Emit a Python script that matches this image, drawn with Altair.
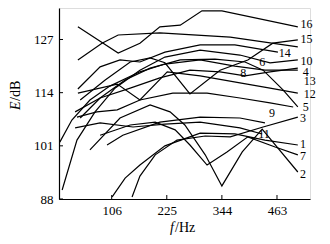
import altair as alt
import pandas as pd

# ---- series (frequency in Hz, level in dB) ----
HZ_16 = [33, 120, 167, 210, 254, 301, 344, 508]
DB_16 = [130.1, 123.7, 126.1, 130.1, 130.5, 134.0, 134.0, 130.1]

HZ_15 = [33, 85, 120, 210, 362, 508]
DB_15 = [122.0, 126.1, 128.1, 128.6, 127.6, 125.2]

HZ_13 = [38, 92, 146, 189, 221, 275, 340, 400, 454, 508]
DB_13 = [112.2, 117.1, 121.5, 122.5, 121.3, 113.7, 119.5, 122.0, 126.1, 126.9]

HZ_14 = [33, 81, 124, 167, 221, 297, 372, 465]
DB_14 = [114.9, 120.3, 122.0, 121.5, 123.9, 125.7, 125.7, 123.9]

HZ_10 = [-1, 31, 70, 113, 167, 221, 297, 383, 448, 508]
DB_10 = [90.2, 102.4, 109.3, 115.1, 119.5, 122.7, 124.4, 123.2, 121.3, 122.0]

HZ_4 = [-6, 20, 59, 102, 167, 221, 297, 372, 437, 508]
DB_4 = [101.9, 107.3, 112.2, 115.6, 119.1, 121.0, 122.0, 120.5, 119.5, 119.5]

HZ_6 = [38, 81, 135, 189, 254, 329, 394, 433, 476, 508]
DB_6 = [107.8, 112.7, 117.1, 120.0, 122.0, 122.2, 121.5, 119.5, 114.7, 110.5]

HZ_8 = [27, 81, 146, 210, 275, 340, 394, 448, 508]
DB_8 = [109.3, 112.7, 115.1, 117.6, 119.5, 119.1, 118.1, 119.1, 120.0]

HZ_12 = [33, 118, 167, 226, 297, 383, 448, 508]
DB_12 = [113.9, 116.1, 112.2, 119.1, 118.1, 116.4, 115.1, 113.9]

HZ_5 = [31, 74, 118, 167, 238, 312, 383, 448, 498]
DB_5 = [108.0, 109.3, 109.8, 112.2, 113.9, 113.9, 112.7, 111.5, 110.5]

HZ_9 = [96, 130, 210, 297, 383, 437]
DB_9 = [101.2, 103.6, 106.8, 108.0, 107.8, 106.6]

HZ_11 = [27, 81, 152, 221, 297, 383, 431]
DB_11 = [105.4, 106.6, 105.6, 106.3, 106.8, 105.4, 103.9]

HZ_1 = [107, 135, 167, 221, 297, 372, 437, 508]
DB_1 = [88.5, 93.1, 96.3, 101.0, 104.1, 103.9, 102.4, 101.2]

HZ_3 = [150, 167, 200, 247, 308, 362, 433, 508]
DB_3 = [88.5, 93.6, 98.8, 102.4, 103.4, 103.2, 105.6, 108.0]

HZ_2 = [59, 124, 189, 232, 264, 308, 344, 388, 431, 508]
DB_2 = [100.0, 107.8, 111.0, 109.3, 106.1, 98.8, 91.2, 99.5, 105.1, 94.6]

HZ_7 = [81, 146, 200, 243, 275, 312, 355, 400, 459, 508]
DB_7 = [103.6, 106.1, 106.8, 104.9, 101.2, 96.3, 99.5, 103.2, 100.7, 98.8]

# ---- curve labels ----
LABEL_TEXT = ["16", "15", "14", "10", "4", "13", "12", "5", "3", "1", "7", "2", "6", "8", "9", "11"]
LABEL_HZ = [527, 527, 480, 527, 525, 534, 534, 525, 519, 519, 519, 519, 431, 390, 452, 435]
LABEL_DB = [130.8, 127.1, 123.7, 121.7, 119.1, 116.8, 113.7, 110.5, 107.8, 101.4, 98.6, 94.1, 121.5, 118.8, 109.0, 103.9]

# ---- axes ----
X_TICKS = [106, 225, 344, 463]
Y_TICKS = [88, 101, 114, 127]
X_DOMAIN = [-7.8, 534.3]
Y_DOMAIN = [88, 134.7]

series = {
    "16": (HZ_16, DB_16), "15": (HZ_15, DB_15), "13": (HZ_13, DB_13), "14": (HZ_14, DB_14),
    "10": (HZ_10, DB_10), "4": (HZ_4, DB_4), "6": (HZ_6, DB_6), "8": (HZ_8, DB_8),
    "12": (HZ_12, DB_12), "5": (HZ_5, DB_5), "9": (HZ_9, DB_9), "11": (HZ_11, DB_11),
    "1": (HZ_1, DB_1), "3": (HZ_3, DB_3), "2": (HZ_2, DB_2), "7": (HZ_7, DB_7),
}
rows = []
for name, (hz, db) in series.items():
    for i, (h, d) in enumerate(zip(hz, db)):
        rows.append({"curve": name, "f": h, "E": d, "i": i})
df = pd.DataFrame(rows)

lab = pd.DataFrame({"t": LABEL_TEXT, "f": LABEL_HZ, "E": LABEL_DB})
xt = pd.DataFrame({"f": X_TICKS})
yt = pd.DataFrame({"E": Y_TICKS})

FONT = "Liberation Serif"

xscale = alt.Scale(domain=X_DOMAIN, nice=False, zero=False)
yscale = alt.Scale(domain=Y_DOMAIN, nice=False, zero=False)

lines = alt.Chart(df).mark_line(color="black", strokeWidth=1.2).encode(
    x=alt.X("f:Q", scale=xscale, axis=alt.Axis(
        values=X_TICKS, title=None, grid=False, ticks=False, domainColor="black",
        domainWidth=1.2, labelFont=FONT, labelFontSize=13, labelColor="black",
        labelPadding=5)),
    y=alt.Y("E:Q", scale=yscale, axis=alt.Axis(
        values=Y_TICKS, title=None, grid=False, ticks=False, domainColor="black",
        domainWidth=1.2, labelFont=FONT, labelFontSize=13, labelColor="black",
        labelPadding=6)),
    detail="curve:N",
    order="i:Q",
)

labels = alt.Chart(lab).mark_text(font=FONT, fontSize=12, color="black", fill="black",
                                  align="center", baseline="middle").encode(
    x=alt.X("f:Q", scale=xscale), y=alt.Y("E:Q", scale=yscale), text="t:N")

xticks = alt.Chart(xt).mark_rule(color="black", strokeWidth=1).encode(
    x=alt.X("f:Q", scale=xscale), y=alt.value(191), y2=alt.value(187))
yticks = alt.Chart(yt).mark_rule(color="black", strokeWidth=1).encode(
    y=alt.Y("E:Q", scale=yscale), x=alt.value(0), x2=alt.value(4))

# axis titles: italic symbol + upright unit
XT_SYM = pd.DataFrame({"t": ["f"]})
XT_UNIT = pd.DataFrame({"t": ["/Hz"]})
YT_SYM = pd.DataFrame({"t": ["E"]})
YT_UNIT = pd.DataFrame({"t": ["/dB"]})

x_sym = alt.Chart(XT_SYM).mark_text(font=FONT, fontSize=14, fontStyle="italic", color="black",
                                    align="left", baseline="middle").encode(
    x=alt.value(111), y=alt.value(220), text="t:N")
x_unit = alt.Chart(XT_UNIT).mark_text(font=FONT, fontSize=14, color="black",
                                      align="left", baseline="middle").encode(
    x=alt.value(116), y=alt.value(220), text="t:N")
y_sym = alt.Chart(YT_SYM).mark_text(font=FONT, fontSize=14, fontStyle="italic", color="black",
                                    align="left", baseline="middle", angle=270).encode(
    x=alt.value(-43), y=alt.value(102), text="t:N")
y_unit = alt.Chart(YT_UNIT).mark_text(font=FONT, fontSize=14, color="black",
                                      align="left", baseline="middle", angle=270).encode(
    x=alt.value(-43), y=alt.value(93), text="t:N")

chart = alt.layer(lines, labels, xticks, yticks, x_sym, x_unit, y_sym, y_unit).properties(
    width=251, height=191,
    autosize=alt.AutoSizeParams(type="none"),
    padding={"left": 51, "top": 0, "right": 12, "bottom": 37},
).configure_view(stroke=None).configure(background="white")

chart.save("out.html", embed_options={"renderer": "svg", "actions": False})
